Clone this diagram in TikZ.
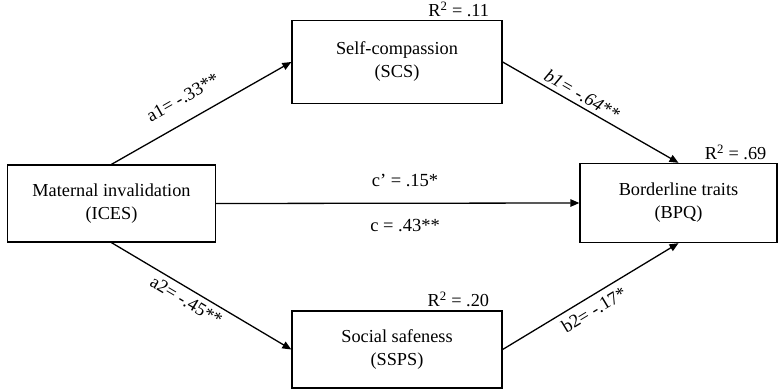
\documentclass[tikz,border=0pt]{standalone}
\usepackage{fontspec}
\setmainfont{Liberation Serif}
\usetikzlibrary{arrows.meta}
\begin{document}
\begin{tikzpicture}[x=1pt,y=-1pt,
  box/.style={draw, line width=1.3pt, align=center, inner sep=0pt},
  conn/.style={line width=1.3pt, -{Triangle[length=9pt,width=7.5pt]}},
  lab/.style={font=\fontsize{18.5}{21}\selectfont},
  every node/.style={font=\fontsize{18.3}{23}\selectfont}]
\useasboundingbox (0,0) rectangle (780,390);
\node[box, minimum width=208pt, minimum height=77pt] (L) at (111.5,203.5) {Maternal invalidation\\(ICES)};
\node[box, minimum width=210pt, minimum height=83pt] (T) at (397,62) {Self-compassion\\(SCS)};
\node[box, minimum width=210pt, minimum height=77pt] (B) at (397,349.5) {Social safeness\\(SSPS)};
\node[box, minimum width=197pt, minimum height=79pt] (R) at (678.5,203) {Borderline traits\\(BPQ)};
\node[anchor=base east] (r1) at ([xshift=-10pt,yshift=3pt]T.north east) {R\textsuperscript{2} = .11};
\node[anchor=base east] (r2) at ([xshift=-10pt,yshift=4pt]B.north east) {R\textsuperscript{2} = .20};
\node[anchor=base west] (r3) at ([xshift=122pt,yshift=3pt]R.north west) {R\textsuperscript{2} = .69};
\draw[conn] (L.north) -- node[lab, pos=0.46, sloped, anchor=south, inner sep=16pt] {a1= -.33**} (T.west);
\draw[conn] (T.east) -- node[lab, pos=0.42, sloped, anchor=south, inner sep=4pt] {\itshape b1= -.64**} (R.north);
\draw[conn] (L.south) -- node[lab, pos=0.45, sloped, anchor=north, inner sep=5pt] {a2= -.45**} (B.west);
\draw[conn] (B.east) -- node[lab, pos=0.48, sloped, anchor=north, inner sep=6pt] {b2= -.17*} (R.south);
\draw[conn] (L.east) -- node[lab, pos=0.52, above=12pt] {c’ = .15*} node[lab, pos=0.52, below=12pt] {c = .43**} (R.west);
\end{tikzpicture}
\end{document}
